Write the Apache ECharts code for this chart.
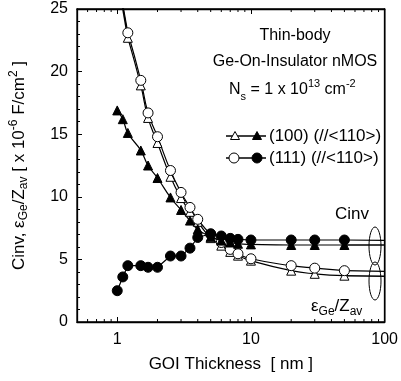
<!DOCTYPE html>
<html><head><meta charset="utf-8">
<script src="https://cdn.jsdelivr.net/npm/echarts@6/dist/echarts.min.js"></script>
<style>html,body{margin:0;padding:0;background:#fff}#c{width:401px;height:381px}</style>
</head><body><div id="c"></div>
<script>
// GOI thickness [nm] for each measured point
const thk = [1, 1.1, 1.2, 1.5, 1.7, 2, 2.5, 3, 3.5, 4, 5, 6, 7, 8, 10, 20, 30, 50];
// Cinv (filled markers)
const cinv100 = [16.9, 16.2, 15.1, 13.7, 12.5, 11.5, 9.95, 8.95, 8.1, 7.4, 6.8, 6.5, 6.35, 6.25, 6.2, 6.15, 6.15, 6.15];
const cinv111 = [2.5, 3.6, 4.5, 4.5, 4.37, 4.37, 5.27, 5.27, 5.9, 6.75, 7.05, 6.87, 6.68, 6.6, 6.55, 6.55, 6.55, 6.55];
// eps_Ge / Z_av (open markers), measured from 1.2 nm
const thkEps = [1.2, 1.5, 1.7, 2, 2.5, 3, 3.5, 4, 5, 6, 7, 8, 10, 20, 30, 50];
const eps100 = [22.7, 18.9, 16.3, 14.3, 11.6, 9.9, 8.8, 8.0, 6.7, 6.1, 5.6, 5.3, 4.9, 4.1, 3.85, 3.7];
const eps111 = [23.1, 19.3, 16.7, 14.8, 12.1, 10.35, 9.15, 8.2, 7.0, 6.35, 5.8, 5.45, 5.05, 4.5, 4.3, 4.1];
// curve extensions (beyond the measured points)
const headX = 1.09, headEps100 = 25.3, headEps111 = 25.6;
const tailX = 100, tailCinv100 = 6.15, tailCinv111 = 6.52, tailEps100 = 3.65, tailEps111 = 4.05;
// axes
const xMin = 0.5, xMax = 100, yMin = 0, yMax = 25, yStep = 5;
const xMinorTicks = [0.6, 0.7, 0.8, 0.9, 2, 3, 4, 5, 6, 7, 8, 9, 20, 30, 40, 50, 60, 70, 80, 90];

const zip = (xs, ys) => xs.map((x, i) => [x, ys[i]]);
const FONT = 'Liberation Sans, Arial, sans-serif';
const chart = echarts.init(document.getElementById('c'), null, {renderer: 'canvas'});

function markerSeries(name, xs, ys, symbol, filled, size, smooth) {
  return {
    name, type: 'line', data: zip(xs, ys), smooth: smooth, symbol, symbolSize: size,
    showAllSymbol: true, z: 5,
    itemStyle: {color: filled ? '#000' : '#fff', borderColor: '#000', borderWidth: 1},
    lineStyle: {color: '#000', width: 1.2},
    emphasis: {disabled: true}
  };
}
function extSeries(pts, w) {
  return {type: 'line', data: pts, symbol: 'none', smooth: false, z: 4,
    lineStyle: {color: '#000', width: w}, emphasis: {disabled: true}};
}
const richSub = (fs, lh) => ({
  a: {fontSize: fs, fontFamily: FONT, color: '#000', fill: '#000', lineHeight: lh, verticalAlign: 'middle'},
  s: {fontSize: Math.round(fs * 0.68), fontFamily: FONT, color: '#000', fill: '#000', lineHeight: lh, verticalAlign: 'bottom', padding: [7, 0, 0, 0]},
  p: {fontSize: Math.round(fs * 0.68), fontFamily: FONT, color: '#000', fill: '#000', lineHeight: lh, verticalAlign: 'top', padding: [0, 0, 7, 0]}
});
const TF = 16, LF = 17;

const option = {
  animation: false,
  textStyle: {fontFamily: FONT},
  grid: {left: 74, right: 13, top: 9, bottom: 59, show: true, borderColor: '#000', borderWidth: 1.3, backgroundColor: 'transparent'},
  xAxis: [{
    type: 'log', min: xMin, max: xMax, logBase: 10,
    axisLine: {show: true, onZero: false, lineStyle: {color: '#000', width: 1.3}},
    axisTick: {show: true, inside: true, length: 5, lineStyle: {color: '#000', width: 1}},
    axisLabel: {color: '#000', fontSize: 16, fontFamily: FONT, margin: 10,
      formatter: v => (v === 1 || v === 10 || v === 100) ? String(v) : ''},
    splitLine: {show: false},
    name: 'GOI Thickness  [ nm ]', nameLocation: 'middle', nameGap: 34,
    nameTextStyle: {color: '#000', fontSize: 17, fontFamily: FONT}
  }, {
    type: 'log', min: xMin, max: xMax, logBase: 10, position: 'top',
    axisLine: {show: true, onZero: false, lineStyle: {color: '#000', width: 1.3}},
    axisTick: {show: true, inside: true, length: 5, lineStyle: {color: '#000', width: 1}},
    axisLabel: {show: false}, splitLine: {show: false}
  }],
  yAxis: [{
    type: 'value', min: yMin, max: yMax, interval: yStep,
    axisLine: {show: true, onZero: false, lineStyle: {color: '#000', width: 1.3}},
    axisTick: {show: true, inside: true, length: 5, lineStyle: {color: '#000', width: 1}},
    minorTick: {show: true, splitNumber: 5, length: 3, lineStyle: {color: '#000', width: 1}},
    axisLabel: {color: '#000', fontSize: 16, fontFamily: FONT, margin: 9},
    splitLine: {show: false},
    name: '{a|Cinv, ε}{s|Ge}{a|/Z}{s|av}{a| [ x 10}{p|-6}{a| F/cm}{p|2}{a| ]}',
    nameLocation: 'middle', nameGap: 47, nameRotate: 90,
    nameTextStyle: {color: '#000', fontFamily: FONT, rich: richSub(17, 22)}
  }, {
    type: 'value', min: yMin, max: yMax, interval: yStep, position: 'right',
    axisLine: {show: true, onZero: false, lineStyle: {color: '#000', width: 1.3}},
    axisTick: {show: false}, axisLabel: {show: false}, splitLine: {show: false}
  }],
  series: [
    {
      type: 'custom', silent: true, z: 10, clip: false,
      data: xMinorTicks.map(v => [v]),
      renderItem: (params, api) => {
        const x = api.value(0);
        const b = api.coord([x, yMin]);
        const t = api.coord([x, yMax]);
        return {type: 'group', children: [
          {type: 'line', shape: {x1: b[0], y1: b[1], x2: b[0], y2: b[1] - 3}, style: {stroke: '#000', lineWidth: 1}},
          {type: 'line', shape: {x1: t[0], y1: t[1], x2: t[0], y2: t[1] + 3}, style: {stroke: '#000', lineWidth: 1}}
        ]};
      }
    },
    // right frame edge, through the axis scale
    {
      type: 'custom', silent: true, z: 10, clip: false,
      data: [[xMax]],
      renderItem: (params, api) => {
        const b = api.coord([api.value(0), yMin]);
        const t = api.coord([api.value(0), yMax]);
        return {type: 'line', shape: {x1: b[0], y1: b[1], x2: t[0], y2: t[1]}, style: {stroke: '#000', lineWidth: 1.3}};
      }
    },
    extSeries([[headX, headEps100], [thkEps[0], eps100[0]]], 1.6),
    extSeries([[headX, headEps111], [thkEps[0], eps111[0]]], 1.2),
    extSeries([[thkEps[thkEps.length - 1], eps100[eps100.length - 1]], [tailX, tailEps100]], 1.6),
    extSeries([[thkEps[thkEps.length - 1], eps111[eps111.length - 1]], [tailX, tailEps111]], 1.2),
    extSeries([[thk[thk.length - 1], cinv100[cinv100.length - 1]], [tailX, tailCinv100]], 1.6),
    extSeries([[thk[thk.length - 1], cinv111[cinv111.length - 1]], [tailX, tailCinv111]], 1.2),
    markerSeries('eps100', thkEps, eps100, 'triangle', false, 9, true),
    markerSeries('eps111', thkEps, eps111, 'circle', false, 10, true),
    markerSeries('cinv100', thk, cinv100, 'triangle', true, 9, true),
    markerSeries('cinv111', thk, cinv111, 'circle', true, 10, false)
  ],
  graphic: [
    {type: 'text', position: [295, 36], style: {text: 'Thin-body', x: 0, y: 0, font: TF + 'px ' + FONT, fill: '#000', textAlign: 'center', textVerticalAlign: 'middle'}},
    {type: 'text', position: [295, 62], style: {text: 'Ge-On-Insulator nMOS', x: 0, y: 0, font: TF + 'px ' + FONT, fill: '#000', textAlign: 'center', textVerticalAlign: 'middle'}},
    {type: 'text', position: [229, 90], style: {
      text: '{a|N}{s|s}{a| = 1 x 10}{p|13}{a| cm}{p|-2}', x: 0, y: 0, textVerticalAlign: 'middle',
      rich: richSub(TF, 24)}},
    {type: 'line', shape: {x1: 226, y1: 136, x2: 266, y2: 136}, style: {stroke: '#000', lineWidth: 1.3}},
    {type: 'polygon', shape: {points: [[235, 131.5], [239.5, 139.5], [230.5, 139.5]]}, style: {fill: '#fff', stroke: '#000', lineWidth: 1}},
    {type: 'polygon', shape: {points: [[257, 131.5], [261.5, 139.5], [252.5, 139.5]]}, style: {fill: '#000', stroke: '#000', lineWidth: 1}},
    {type: 'text', position: [269, 136], style: {text: '(100) (//<110>)', x: 0, y: 0, font: LF + 'px ' + FONT, fill: '#000', textVerticalAlign: 'middle'}},
    {type: 'line', shape: {x1: 226, y1: 158, x2: 266, y2: 158}, style: {stroke: '#000', lineWidth: 1.3}},
    {type: 'circle', shape: {cx: 234, cy: 158, r: 5}, style: {fill: '#fff', stroke: '#000', lineWidth: 1}},
    {type: 'circle', shape: {cx: 257, cy: 158, r: 5}, style: {fill: '#000', stroke: '#000', lineWidth: 1}},
    {type: 'text', position: [269, 158], style: {text: '(111) (//<110>)', x: 0, y: 0, font: LF + 'px ' + FONT, fill: '#000', textVerticalAlign: 'middle'}},
    {type: 'text', position: [369, 214], style: {text: 'Cinv', x: 0, y: 0, font: LF + 'px ' + FONT, fill: '#000', textAlign: 'right', textVerticalAlign: 'middle'}},
    {type: 'ellipse', shape: {cx: 375, cy: 246, rx: 6, ry: 19}, style: {fill: 'none', stroke: '#000', lineWidth: 1}},
    {type: 'ellipse', shape: {cx: 375, cy: 281, rx: 6, ry: 19}, style: {fill: 'none', stroke: '#000', lineWidth: 1}},
    {type: 'text', position: [311, 306], style: {
      text: '{a|ε}{s|Ge}{a|/Z}{s|av}', x: 0, y: 0, textVerticalAlign: 'middle',
      rich: richSub(LF, 24)}}
  ]
};
chart.setOption(option);
</script></body></html>
